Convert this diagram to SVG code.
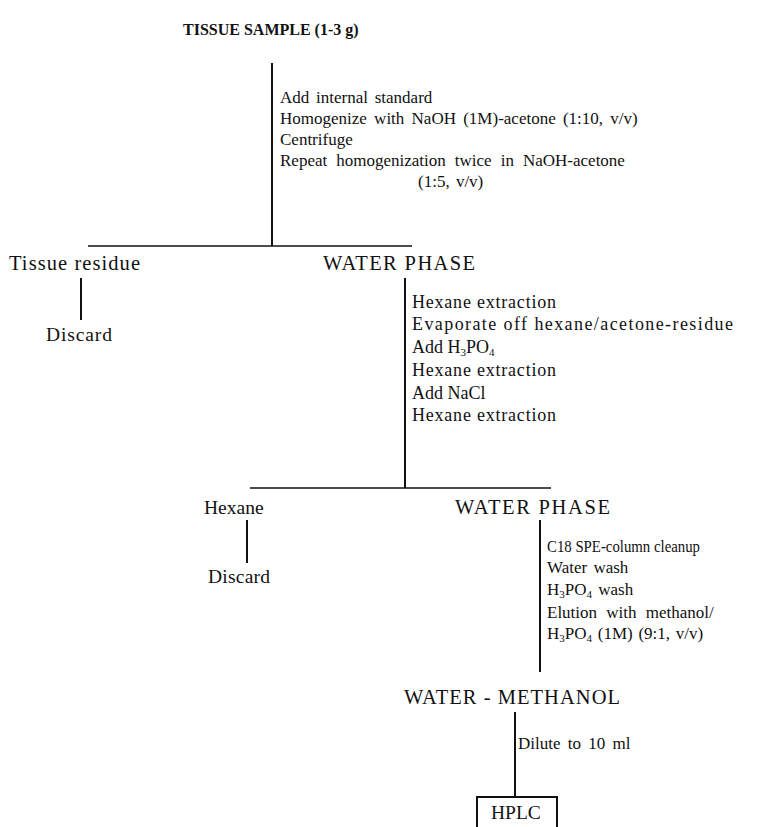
<svg xmlns="http://www.w3.org/2000/svg" width="775" height="827" viewBox="0 0 775 827">
<style>
text{font-family:"Liberation Serif","Times New Roman",serif;font-size:16px;fill:#111}
.b{font-weight:bold}
.n{font-size:19.5px}
.u{font-size:20.5px}
.m{font-size:17px}
.k{font-size:18px}
.l{stroke:#111;fill:none}
.v{stroke-width:2}
.h{stroke-width:1.6}
.s{font-size:11px}
</style>
<rect width="775" height="827" fill="#fff"/>
<g id="connectors">
<line class="l v" x1="272" y1="63" x2="272" y2="246"/>
<line class="l h" x1="88" y1="246" x2="412" y2="246"/>
<line class="l v" x1="81" y1="278" x2="81" y2="320"/>
<line class="l v" x1="405" y1="278" x2="405" y2="488"/>
<line class="l h" x1="250" y1="488" x2="551" y2="488"/>
<line class="l v" x1="247" y1="520" x2="247" y2="563"/>
<line class="l v" x1="540" y1="520" x2="540" y2="672"/>
<line class="l v" x1="515" y1="712" x2="515" y2="797"/>
</g>
<g id="tissue-sample"><text class="b" x="183" y="35">TISSUE SAMPLE (1-3 g)</text></g>
<g id="step1">
<text class="m" x="280" y="103" word-spacing="2.5">Add internal standard</text>
<text class="m" x="280" y="124" word-spacing="3">Homogenize with NaOH (1M)-acetone (1:10, v/v)</text>
<text class="m" x="280" y="145">Centrifuge</text>
<text class="m" x="280" y="166" word-spacing="4.8">Repeat homogenization twice in NaOH-acetone</text>
<text class="m" x="418" y="187" word-spacing="2">(1:5, v/v)</text>
</g>
<g id="tissue-residue"><text class="u" x="9" y="270" textLength="131" lengthAdjust="spacing">Tissue residue</text></g>
<g id="discard1"><text class="n" x="46" y="341" textLength="66" lengthAdjust="spacing">Discard</text></g>
<g id="water-phase1"><text class="u" x="323" y="270" textLength="152" lengthAdjust="spacing">WATER PHASE</text></g>
<g id="step2">
<text class="k" x="412" y="308" textLength="144" lengthAdjust="spacing">Hexane extraction</text>
<text class="k" x="412" y="330" textLength="321" lengthAdjust="spacing">Evaporate off hexane/acetone-residue</text>
<text class="k" x="412" y="353">Add H<tspan class="s" dy="3">3</tspan><tspan dy="-3">PO</tspan><tspan class="s" dy="3">4</tspan></text>
<text class="k" x="412" y="376" textLength="144" lengthAdjust="spacing">Hexane extraction</text>
<text class="k" x="412" y="399">Add NaCl</text>
<text class="k" x="412" y="421" textLength="144" lengthAdjust="spacing">Hexane extraction</text>
</g>
<g id="hexane"><text class="n" x="204" y="514">Hexane</text></g>
<g id="discard2"><text class="n" x="208" y="583" textLength="62" lengthAdjust="spacing">Discard</text></g>
<g id="water-phase2"><text class="u" x="455" y="514" textLength="155" lengthAdjust="spacing">WATER PHASE</text></g>
<g id="step3">
<text class="m" x="547" y="552" textLength="153" lengthAdjust="spacingAndGlyphs">C18 SPE-column cleanup</text>
<text class="m" x="547" y="573" word-spacing="2">Water wash</text>
<text class="m" x="547" y="595">H<tspan class="s" dy="3">3</tspan><tspan dy="-3">PO</tspan><tspan class="s" dy="3">4</tspan><tspan dy="-3" word-spacing="2"> wash</tspan></text>
<text class="m" x="547" y="618" word-spacing="5">Elution with methanol/</text>
<text class="m" x="547" y="639">H<tspan class="s" dy="3">3</tspan><tspan dy="-3" word-spacing="1.5">PO</tspan><tspan class="s" dy="3">4</tspan><tspan dy="-3" word-spacing="1.5"> (1M) (9:1, v/v)</tspan></text>
</g>
<g id="water-methanol"><text class="u" x="404" y="704" textLength="216" lengthAdjust="spacing">WATER - METHANOL</text></g>
<g id="step4"><text class="m" x="518" y="749" word-spacing="3">Dilute to 10 ml</text></g>
<g id="hplc">
<path class="l v" d="M477,827 V797 H557 V827"/>
<text class="n" x="491" y="819">HPLC</text>
</g>
</svg>
